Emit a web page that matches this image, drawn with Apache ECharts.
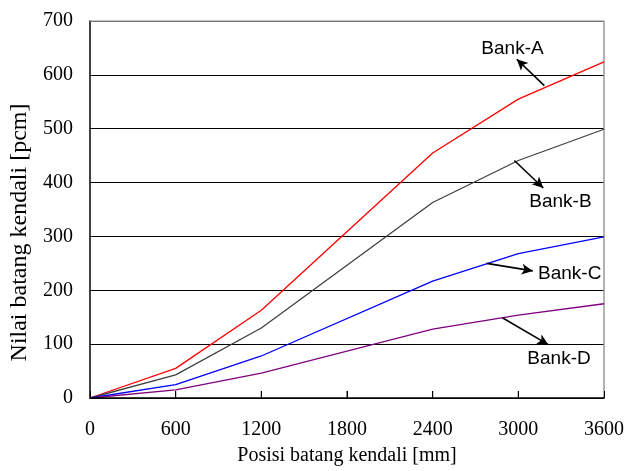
<!DOCTYPE html>
<html><head><meta charset="utf-8">
<script src="https://cdn.jsdelivr.net/npm/echarts@6/dist/echarts.min.js"></script>
<style>html,body{margin:0;padding:0;background:#fff}#c{width:628px;height:471px}</style>
</head><body><div id="c"></div>
<script>
var positions = [0, 600, 1200, 2400, 3000, 3600];
var bankA = [0, 55, 163, 455, 555, 624];
var bankB = [0, 43, 130, 363, 441, 499];
var bankC = [0, 25, 78, 217, 268, 299];
var bankD = [0, 15, 46, 128, 154, 175];
var seriesNames = ['Bank-A', 'Bank-B', 'Bank-C', 'Bank-D'];
var seriesColors = ['#ff0000', '#404040', '#0000ff', '#800080'];
var arrowStart = [[3182, 580], [2972, 441], [2778, 250], [2888, 149]];
var arrowEnd = [[2989, 629], [3175, 390], [3101, 236], [3210, 99]];
var labelPos = [[2959, 648], [3295, 365], [3360, 231], [3285, 72]];
var xTicks = [0, 600, 1200, 1800, 2400, 3000, 3600];
var yTicks = [0, 100, 200, 300, 400, 500, 600, 700];

var allData = [bankA, bankB, bankC, bankD];
var chart = echarts.init(document.getElementById('c'));
var serif = '"Liberation Serif", "Times New Roman", serif';
var sans = '"Liberation Sans", Arial, sans-serif';
var series = allData.map(function (vals, i) {
  return {
    name: seriesNames[i],
    type: 'line',
    data: positions.map(function (p, j) { return [p, vals[j]]; }),
    symbol: 'none',
    lineStyle: { color: seriesColors[i], width: 1.3 },
    itemStyle: { color: seriesColors[i] },
    z: 3,
    markLine: {
      silent: true,
      symbol: ['none', 'arrow'],
      symbolSize: [8, 11],
      lineStyle: { color: '#000', width: 1.6, type: 'solid' },
      label: { show: false },
      data: [[{ coord: arrowStart[i] }, { coord: arrowEnd[i] }]]
    },
    markPoint: {
      silent: true,
      symbol: 'circle',
      symbolSize: 0,
      label: {
        show: true, position: 'inside', formatter: seriesNames[i],
        color: '#000', fontFamily: sans, fontSize: 19
      },
      data: [{ coord: labelPos[i] }]
    }
  };
});
// border (top / right) in gray
series.push({
  type: 'line', data: [[0, 700], [3600, 700], [3600, 0]], symbol: 'none',
  lineStyle: { color: '#999', width: 1.5 }, silent: true, z: 1
});
// inner tick marks on the x axis
series.push({
  type: 'scatter', silent: true, z: 6,
  data: xTicks.slice(1, -1).map(function (v) { return [v, 0]; }),
  symbol: 'rect', symbolSize: [1.2, 7], symbolOffset: [0, -3.5],
  itemStyle: { color: '#000' }
});

chart.setOption({
  animation: false,
  backgroundColor: '#fff',
  grid: { left: 90, right: 24, top: 21, bottom: 72, containLabel: false },
  xAxis: {
    type: 'value', min: 0, max: 3600, interval: 600,
    name: 'Posisi batang kendali [mm]', nameLocation: 'middle', nameGap: 48,
    nameTextStyle: { fontFamily: serif, fontSize: 20, color: '#000' },
    axisLine: { lineStyle: { color: '#000', width: 1.5 } },
    axisTick: { show: true, inside: true, length: 7, lineStyle: { color: '#000', width: 1 } },
    axisLabel: { fontFamily: serif, fontSize: 20, color: '#000', margin: 22,
      formatter: function (v) { return xTicks.indexOf(v) >= 0 ? String(v) : ''; } },
    splitLine: { show: false },
    z: 5
  },
  yAxis: {
    type: 'value', min: 0, max: 700, interval: 100,
    name: 'Nilai batang kendali [pcm]', nameLocation: 'middle', nameGap: 49,
    nameTextStyle: { fontFamily: serif, fontSize: 24, color: '#000', padding: [0, 46, 0, 0] },
    axisLine: { show: true, lineStyle: { color: '#000', width: 1.5 } },
    axisTick: { show: false },
    axisLabel: { fontFamily: serif, fontSize: 20, color: '#000', margin: 17,
      formatter: function (v) { return yTicks.indexOf(v) >= 0 ? String(v) : ''; } },
    splitLine: { show: true, lineStyle: { color: '#000', width: 1 } }
  },
  series: series
});
</script></body></html>
